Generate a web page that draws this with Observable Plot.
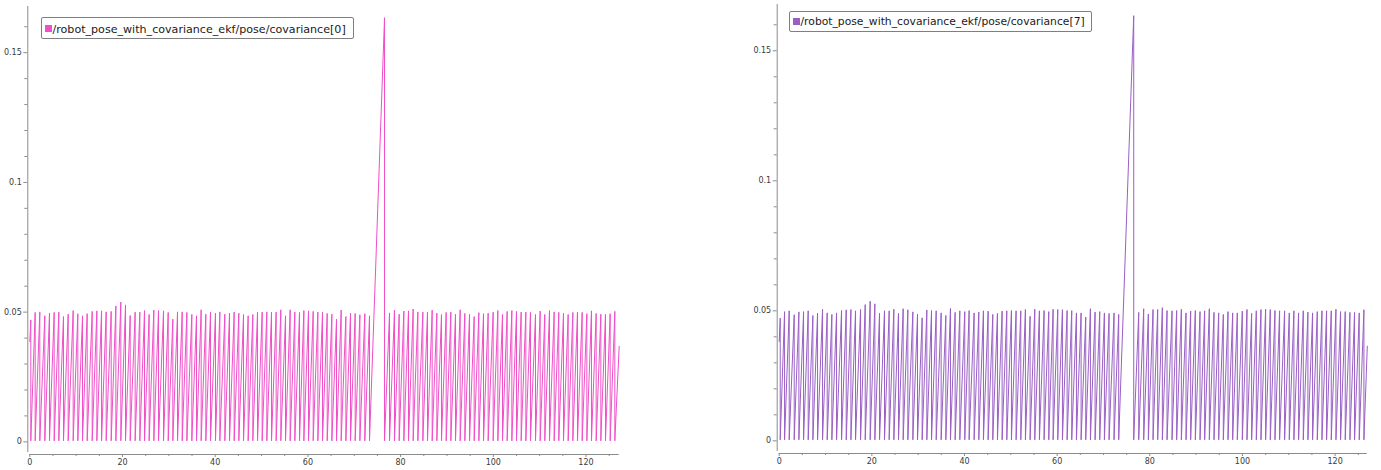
<!DOCTYPE html>
<html><head><meta charset="utf-8">
<script src="https://cdn.jsdelivr.net/npm/d3@7"></script>
<script src="https://cdn.jsdelivr.net/npm/@observablehq/plot@0.6"></script>
<style>
html,body{margin:0;padding:0;background:#fff;}
#root{position:relative;width:1381px;height:470px;overflow:hidden;font-family:"DejaVu Sans",sans-serif;}
.panel{position:absolute;top:0;}
.lg-box{position:absolute;box-sizing:border-box;border:1.5px solid #7f7f7f;background:#fff;border-radius:2px;}
.lg-sw{position:absolute;}
.lg-tx{position:absolute;white-space:nowrap;color:#1a1a1a;line-height:1;font-family:"DejaVu Sans",sans-serif;}
</style></head><body><div id="root"></div>
<script>
// ---- data ----
const seriesNames = ["/robot_pose_with_covariance_ekf/pose/covariance[0]", "/robot_pose_with_covariance_ekf/pose/covariance[7]"];
const seriesColors = ["#ef4fc9", "#9a5fc5"];

// time (s) of every covariance peak (just before each reset)
const peakTimes = [
0.22,1.16,2.16,3.24,4.25,5.26,6.26,7.27,8.28,9.36,10.36,11.37,12.38,13.46,14.47,15.48,16.48,17.56,18.57,19.64,
20.65,21.66,22.73,23.74,24.75,25.75,26.76,27.77,28.85,29.86,30.86,31.87,32.88,33.89,34.96,35.97,36.97,37.98,38.99,40.06,
41.00,42.08,43.09,44.09,45.10,46.11,47.11,48.12,49.13,50.13,51.14,52.15,53.15,54.16,55.17,56.17,57.18,58.19,
59.13,60.13,61.14,62.15,63.15,64.16,65.17,66.17,67.18,68.19,69.19,70.20,71.21,72.28,73.29,
76.53,
77.61,78.68,79.69,80.70,81.70,82.71,83.72,84.80,85.80,86.81,87.82,88.82,89.83,90.84,91.84,92.85,93.86,94.87,95.87,96.88,
97.89,98.89,99.97,100.98,101.98,102.99,104.00,105.00,106.01,107.02,108.02,109.10,110.11,111.11,112.12,113.13,114.13,115.14,116.15,117.16,
118.16,119.17,120.18,121.18,122.19,123.20,124.20,125.21,126.22
];

// covariance[0] peak values
const cov0Peaks = [
0.0470,0.0499,0.0501,0.0486,0.0496,0.0499,0.0500,0.0483,0.0492,0.0506,
0.0494,0.0486,0.0494,0.0503,0.0505,0.0505,0.0501,0.0503,0.0524,0.0539,
0.0528,0.0487,0.0500,0.0500,0.0506,0.0491,0.0508,0.0506,0.0505,0.0499,
0.0473,0.0501,0.0501,0.0499,0.0491,0.0486,0.0509,0.0492,0.0500,0.0496,
0.0501,0.0492,0.0496,0.0500,0.0496,0.0491,0.0486,0.0491,0.0500,0.0500,
0.0501,0.0500,0.0500,0.0509,0.0486,0.0509,0.0500,0.0499,
0.0506,0.0505,0.0503,0.0500,0.0500,0.0495,0.0492,0.0473,0.0508,0.0483,0.0496,0.0495,0.0490,0.0494,0.0486,
0.1635,
0.0497,0.0508,0.0492,0.0504,0.0505,0.0512,0.0501,0.0500,0.0500,0.0508,
0.0496,0.0491,0.0499,0.0500,0.0492,0.0509,0.0495,0.0492,0.0483,0.0498,
0.0494,0.0496,0.0500,0.0506,0.0491,0.0503,0.0506,0.0503,0.0500,0.0500,
0.0499,0.0491,0.0504,0.0491,0.0506,0.0501,0.0499,0.0496,0.0491,0.0499,
0.0500,0.0499,0.0494,0.0505,0.0495,0.0492,0.0492,0.0494,0.0503
];

// covariance[7] peak values
const cov7Peaks = [
0.0472,0.0497,0.0500,0.0485,0.0496,0.0497,0.0500,0.0482,0.0491,0.0506,
0.0492,0.0486,0.0492,0.0501,0.0504,0.0505,0.0500,0.0505,0.0524,0.0537,
0.0527,0.0491,0.0500,0.0500,0.0506,0.0490,0.0508,0.0504,0.0496,0.0487,
0.0473,0.0503,0.0501,0.0500,0.0492,0.0482,0.0509,0.0494,0.0500,0.0497,
0.0501,0.0492,0.0495,0.0500,0.0499,0.0486,0.0490,0.0499,0.0500,0.0501,
0.0500,0.0500,0.0505,0.0479,0.0506,0.0500,
0.0501,0.0497,0.0506,0.0505,0.0504,0.0501,0.0501,0.0492,0.0492,0.0476,0.0508,0.0495,0.0497,0.0492,0.0490,0.0492,0.0486,
0.1635,
0.0494,0.0508,0.0488,0.0505,0.0505,0.0512,0.0501,0.0500,0.0501,0.0506,
0.0492,0.0499,0.0501,0.0497,0.0500,0.0508,0.0494,0.0492,0.0486,0.0497,
0.0492,0.0492,0.0499,0.0505,0.0490,0.0500,0.0505,0.0506,0.0505,0.0501,
0.0500,0.0500,0.0492,0.0500,
0.0492,0.0500,0.0495,0.0492,0.0497,0.0500,0.0500,0.0500,0.0506,0.0497,0.0497,0.0494,0.0494,0.0492,0.0504
];

const troughValue = 0.0004;              // value right after each reset
const startValues = [0.0387, 0.0382];    // value at t = 0
const endTimes = [127.16, 126.95];       // last sample time
const endValues = [0.0368, 0.0364];      // last sample value

// axis ticks
const yMajorTicks = [0, 0.05, 0.1, 0.15];
const yTickLabels = ["0", "0.05", "0.1", "0.15"];
const yMinorTicks = [0.01,0.02,0.03,0.04,0.06,0.07,0.08,0.09,0.11,0.12,0.13,0.14,0.16];
const xMajorTicks = [0, 20, 40, 60, 80, 100, 120];
const xTickLabels = ["0", "20", "40", "60", "80", "100", "120"];
const xMinorTicks = [5,10,15,25,30,35,45,50,55,65,70,75,85,90,95,105,110,115,125];
const yDomain = [-0.0041, 0.1678];

// ---- build ----
function buildSeries(k, peaks) {
  const pts = [{t: 0, v: startValues[k]}];
  peaks.forEach((p, i) => {
    pts.push({t: peakTimes[i], v: p});
    pts.push({t: peakTimes[i], v: troughValue});
  });
  pts.push({t: endTimes[k], v: endValues[k]});
  return pts;
}

const layouts = [
  {left: 0, width: 690, marginLeft: 29.3, marginRight: 71.3, marginTop: 6, marginBottom: 18,
   legend: {x: 41, y: 17, w: 313, h: 22, sx: 45, sy: 25, ss: 7, tx: 52.5, ty: 24, fs: 11.1}},
  {left: 690, width: 691, marginLeft: 88.7, marginRight: 14.2, marginTop: 4, marginBottom: 19,
   legend: {x: 789, y: 11, w: 303, h: 21, sx: 793, sy: 18, ss: 7, tx: 800.5, ty: 17, fs: 10.75}}
];

const root = document.getElementById("root");
const allPeaks = [cov0Peaks, cov7Peaks];

layouts.forEach((L, k) => {
  const data = buildSeries(k, allPeaks[k]);
  const axisColor = "#8c8c8c";
  const textColor = "#3a3a3a";
  const chart = Plot.plot({
    width: L.width, height: 470,
    marginLeft: L.marginLeft, marginRight: L.marginRight,
    marginTop: L.marginTop, marginBottom: L.marginBottom,
    x: {domain: [0, endTimes[k]]},
    y: {domain: yDomain},
    style: {fontFamily: "DejaVu Sans", fontSize: "8px", background: "transparent", overflow: "visible"},
    marks: [
      Plot.line(data, {x: "t", y: "v", stroke: seriesColors[k], strokeWidth: 1}),
      Plot.ruleX([0], {stroke: axisColor, dx: -2}),
      Plot.ruleY([yDomain[0]], {stroke: axisColor, dy: 2}),
      Plot.axisY({ticks: yMinorTicks, tickSize: 3, text: null, dx: -2, stroke: axisColor, label: null}),
      Plot.axisY({ticks: yMajorTicks, tickSize: 4, tickPadding: 2, dx: -2, stroke: axisColor, fill: textColor,
                  tickFormat: d => yTickLabels[yMajorTicks.indexOf(d)], label: null}),
      Plot.axisX({ticks: xMinorTicks, tickSize: 2, text: null, dy: 2, stroke: axisColor, label: null}),
      Plot.axisX({ticks: xMajorTicks, tickSize: 3, tickPadding: 2, dy: 2, stroke: axisColor, fill: textColor,
                  tickFormat: d => xTickLabels[xMajorTicks.indexOf(d)], label: null})
    ]
  });
  chart.classList.add("panel");
  chart.style.left = L.left + "px";
  root.appendChild(chart);

  const g = L.legend;
  const box = document.createElement("div");
  box.className = "lg-box";
  Object.assign(box.style, {left: g.x + "px", top: g.y + "px", width: g.w + "px", height: g.h + "px"});
  root.appendChild(box);
  const sw = document.createElement("div");
  sw.className = "lg-sw";
  Object.assign(sw.style, {left: g.sx + "px", top: g.sy + "px", width: g.ss + "px", height: g.ss + "px", background: seriesColors[k]});
  root.appendChild(sw);
  const tx = document.createElement("div");
  tx.className = "lg-tx";
  tx.textContent = seriesNames[k];
  Object.assign(tx.style, {left: g.tx + "px", top: g.ty + "px", fontSize: g.fs + "px"});
  root.appendChild(tx);
});
</script>
</body></html>
